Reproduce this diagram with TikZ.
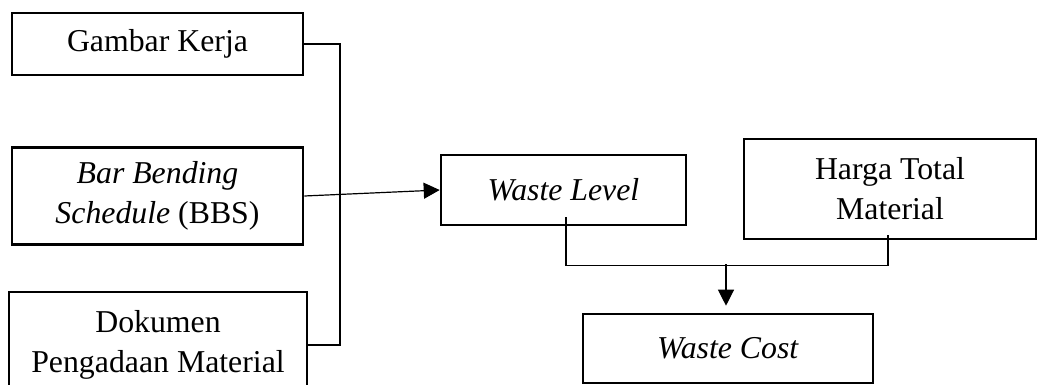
\documentclass[tikz,border=0pt]{standalone}
\usepackage{fontspec}
\setmainfont{Liberation Serif}
\usetikzlibrary{arrows.meta, positioning}

\begin{document}
\begin{tikzpicture}[
    x=0.5pt, y=-0.5pt,
    box/.style={draw, line width=1.3pt, align=center, inner sep=0pt, font=\fontsize{15.9}{20}\selectfont},
    link/.style={line width=0.6pt},
    arrow/.style={-{Triangle[length=8pt, width=8pt]}, line width=0.6pt}
]
    \useasboundingbox (0,0) rectangle (1038,385);

    % Inputs
    \node[box, minimum width=145.5pt, minimum height=31pt] (gk) at (157.5,44) {Gambar Kerja};
    \node[box, minimum width=145.5pt, minimum height=48.5pt] (bbs) at (157.5,196) {\textit{Bar Bending}\\\textit{Schedule} (BBS)};
    \node[box, minimum width=149pt, minimum height=53pt] (dk) at (158,345) {Dokumen\\Pengadaan Material};

    % Waste level and price
    \node[box, minimum width=122.5pt, minimum height=35pt] (wl) at (563.5,190) {\textit{Waste Level}};
    \node[box, minimum width=146pt, minimum height=50pt] (hm) at (890,189) {Harga Total\\Material};

    % Result
    \node[box, minimum width=145pt, minimum height=34.5pt] (wc) at (728,348.5) {\textit{Waste Cost}};

    % Connectors
    \coordinate (bus) at (340,44);
    \draw[link] (gk.east) -- (bus) |- (dk.east);
    \draw[arrow] (bbs.east) -- (wl.west);

    \draw[link] ([xshift=1.25pt, yshift=4.5pt]wl.south) -- ++(0,48) -| ([xshift=-1pt, yshift=2.5pt]hm.south);
    \coordinate (mid) at (726,264);
    \draw[arrow, shorten >=3.5pt] (mid) -- (mid |- wc.north);
\end{tikzpicture}
\end{document}
